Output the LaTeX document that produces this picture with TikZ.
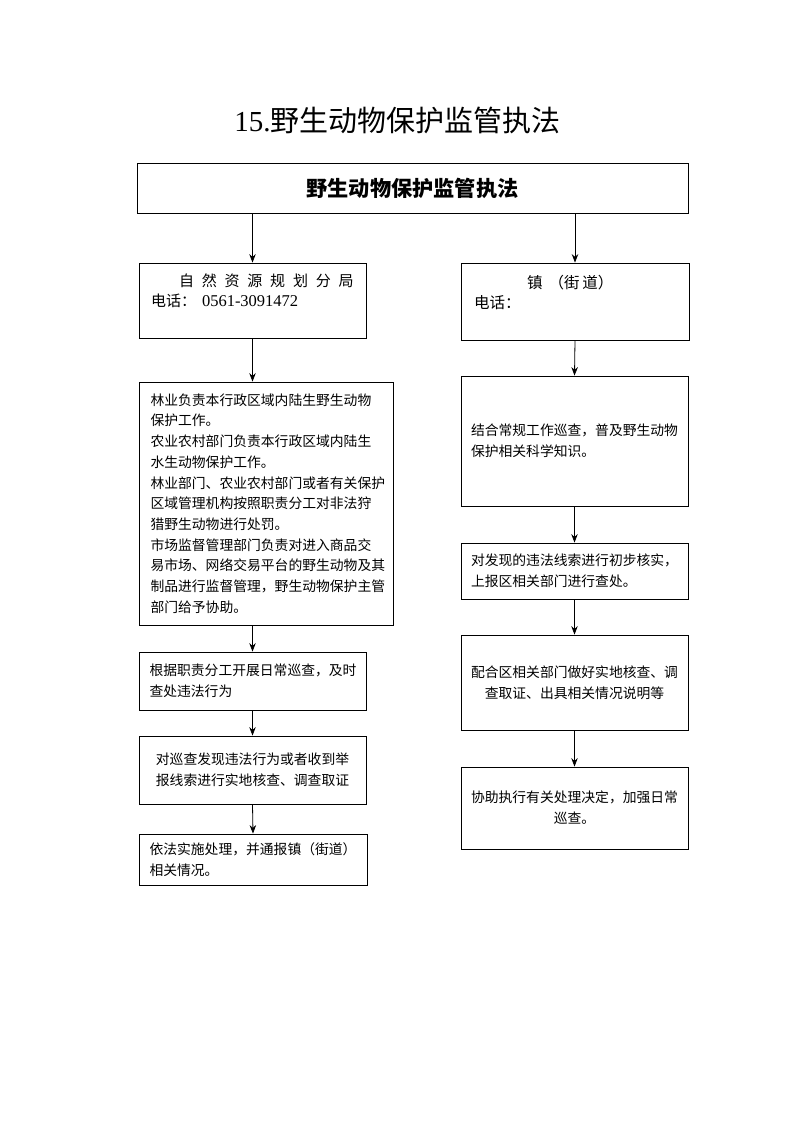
\documentclass[tikz,border=0pt]{standalone}
\usepackage{fontspec}
\setmainfont{Liberation Serif}
\newfontfamily\cjk{Noto Sans CJK SC}
\usetikzlibrary{arrows.meta}

\begin{document}
\begin{tikzpicture}[x=1pt,y=-1pt,>={Stealth[length=8.5pt,width=6.5pt]},
     box/.style={draw,line width=0.8pt,inner sep=0pt},
     txt/.style={font={\cjk\fontsize{13.8}{21}\selectfont}},
     flow/.style={->,line width=0.8pt}]
     \useasboundingbox (0,0) rectangle (793,1122);

     % title
     \node (title) at (397.5,120) {\fontsize{29}{32}\selectfont 15.\cjk 野生动物保护监管执法};

     % top box
     \node[box,minimum width=551,minimum height=50,
          font={\cjk\bfseries\fontsize{21.2}{24}\selectfont}] (top) at (412.5,188) {野生动物保护监管执法};

     % header boxes
     \node[box,minimum width=227,minimum height=75,text width=203,align=left,
          font={\cjk\fontsize{15}{20}\selectfont}] (hdrL) at (252.5,300.5)
          {\hspace*{28pt}自\hspace{7.8pt}然\hspace{7.8pt}资\hspace{7.8pt}源\hspace{7.8pt}规\hspace{7.8pt}划\hspace{7.8pt}分\hspace{7.8pt}局\\
           电话：\hspace{6pt}{\rmfamily\fontsize{16.5}{20}\selectfont 0561-3091472}\\\mbox{}};
     \node[box,minimum width=228,minimum height=77,text width=202,align=left,
          font={\cjk\fontsize{15.5}{20}\selectfont}] (hdrR) at (575,301.5)
          {\hspace*{53pt}镇\hspace{6pt}（街\hspace{3pt}道）\\
           电话：\\\mbox{}};

     % left column
     \node[box,txt,minimum width=254,minimum height=243,text width=231,align=left,
          font={\cjk\fontsize{13.8}{20.7}\selectfont}] (bigL) at (266,503.5)
          {林业负责本行政区域内陆生野生动物\\
           保护工作。\\
           农业农村部门负责本行政区域内陆生\\
           水生动物保护工作。\\
           林业部门、农业农村部门或者有关保护\\
           区域管理机构按照职责分工对非法狩\\
           猎野生动物进行处罚。\\
           市场监督管理部门负责对进入商品交\\
           易市场、网络交易平台的野生动物及其\\
           制品进行监督管理，野生动物保护主管\\
           部门给予协助。};
     \node[box,txt,minimum width=227,minimum height=58,text width=206,align=left] (boxL2) at (252.5,681)
          {根据职责分工开展日常巡查，及时\\查处违法行为};
     \node[box,txt,minimum width=227,minimum height=68,text width=206,align=center] (boxL3) at (252.5,770)
          {对巡查发现违法行为或者收到举\\报线索进行实地核查、调查取证};
     \node[box,txt,minimum width=228,minimum height=51,text width=207,align=left] (boxL4) at (253,859.5)
          {依法实施处理，并通报镇（街道）\\相关情况。};

     % right column
     \node[box,txt,minimum width=227,minimum height=130,text width=207,align=left] (boxR2) at (574.5,441)
          {结合常规工作巡查，普及野生动物\\保护相关科学知识。};
     \node[box,txt,minimum width=227,minimum height=56,text width=207,align=left] (boxR3) at (574.5,571)
          {对发现的违法线索进行初步核实，\\上报区相关部门进行查处。};
     \node[box,txt,minimum width=227,minimum height=95,text width=207,align=center] (boxR4) at (574.5,682.5)
          {配合区相关部门做好实地核查、调\\查取证、出具相关情况说明等};
     \node[box,txt,minimum width=227,minimum height=82,text width=207,align=center] (boxR5) at (574.5,808)
          {协助执行有关处理决定，加强日常\\巡查。};

     % connectors
     \draw[flow] (top.south -| hdrL.north) -- (hdrL.north);
     \draw[flow] (top.south -| hdrR.north) -- (hdrR.north);
     \draw[flow] (hdrL.south) -- (hdrL.south |- bigL.north);
     \draw[flow] (bigL.south -| boxL2.north) -- (boxL2.north);
     \draw[flow] (boxL2.south) -- (boxL3.north);
     \draw[flow] (boxL3.south) -- (boxL4.north);
     \draw[flow] (hdrR.south) -- (boxR2.north);
     \draw[flow] (boxR2.south) -- (boxR3.north);
     \draw[flow] (boxR3.south) -- (boxR4.north);
     \draw[flow] (boxR4.south) -- (boxR5.north);
\end{tikzpicture}
\end{document}
